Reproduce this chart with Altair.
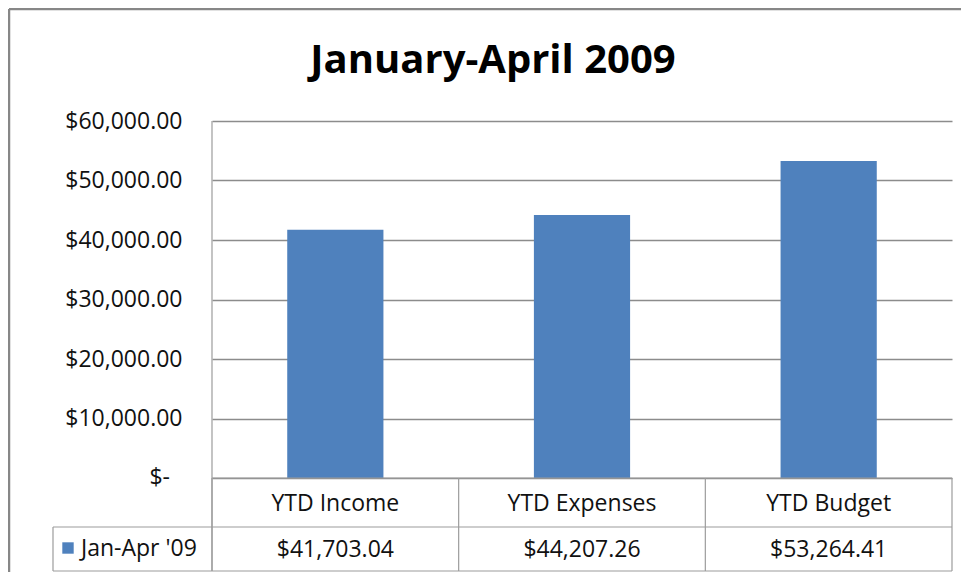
import altair as alt
import pandas as pd

# ---- data ----
categories = ["YTD Income", "YTD Expenses", "YTD Budget"]
values = [41703.04, 44207.26, 53264.41]
series_name = "Jan-Apr '09"
y_ticks = [0, 10000, 20000, 30000, 40000, 50000, 60000]
title_text = "January-April 2009"

BAR = "#4F81BD"
GRID = "#8C8C8C"
TABLE = "#9C9C9C"
FONT = "Open Sans"
FS = 23

W, H = 740, 357

df = pd.DataFrame({"cat": categories, "value": values})
one = pd.DataFrame({"a": [0]})
zero = pd.DataFrame({"value": [y_ticks[0]], "lbl": ["$-"]})

x_enc = alt.X("cat:N", sort=categories,
              scale=alt.Scale(paddingInner=0, paddingOuter=0), axis=None)

bars = alt.Chart(df).mark_bar(color=BAR, width=alt.RelativeBandSize(0.39)).encode(
    x=x_enc,
    y=alt.Y("value:Q", scale=alt.Scale(domain=[0, 60000]), title=None,
            axis=alt.Axis(values=y_ticks, grid=True, gridColor=GRID, gridWidth=1.3,
                          ticks=False, domain=False, labelPadding=30,
                          labelFont=FONT, labelFontSize=FS, labelColor="#111",
                          labelExpr="datum.value == 0 ? '' : '$' + format(datum.value, ',.2f')")),
)

zero_lbl = alt.Chart(zero).mark_text(font=FONT, fontSize=FS, color="#111",
                                     align="right", baseline="middle").encode(
    x=alt.value(-42), y=alt.Y("value:Q"), text="lbl:N")

cat_text = alt.Chart(df).mark_text(font=FONT, fontSize=FS, color="#111", baseline="middle").encode(
    x=x_enc, y=alt.value(383), text="cat:N")

val_text = alt.Chart(df).transform_calculate(
    lbl="'$' + format(datum.value, ',.2f')"
).mark_text(font=FONT, fontSize=FS, color="#111", baseline="middle").encode(
    x=x_enc, y=alt.value(429), text="lbl:N")

# table vertical separators at band starts
vlines = alt.Chart(df).mark_rule(color=TABLE, strokeWidth=1.2).encode(
    x=alt.X("cat:N", sort=categories, bandPosition=0,
            scale=alt.Scale(paddingInner=0, paddingOuter=0), axis=None),
    y=alt.value(H), y2=alt.value(450))

def rule(**kw):
    return alt.Chart(one).mark_rule(color=TABLE, strokeWidth=1.2).encode(**{k: alt.value(v) for k, v in kw.items()})

right_line = rule(x=W, y=H, y2=450)
left_line = rule(x=0, y=0, y2=450)
legend_left = rule(x=-159, y=406, y2=450)
h_mid = rule(x=-159, x2=W, y=406)
h_bot = rule(x=-159, x2=W, y=450)
h_top = rule(x=0, x2=W, y=H)

outer_left = alt.Chart(one).mark_rule(color="#878787", strokeWidth=2.5).encode(
    x=alt.value(-203), y=alt.value(-112), y2=alt.value(470))
outer_top = alt.Chart(one).mark_rule(color="#878787", strokeWidth=2.5).encode(
    x=alt.value(-203), x2=alt.value(770), y=alt.value(-112))

legend_sq = alt.Chart(one).mark_square(color=BAR, size=130, opacity=1).encode(
    x=alt.value(-144), y=alt.value(427))
legend_txt = alt.Chart(one).transform_calculate(t=f'"{series_name}"').mark_text(
    font=FONT, fontSize=FS, color="#111", align="left", baseline="middle").encode(
    x=alt.value(-131), y=alt.value(428), text="t:N")

title = alt.Chart(one).transform_calculate(t=f'"{title_text}"').mark_text(
    font=FONT, fontSize=40, fontWeight="bold", color="#000", baseline="middle").encode(
    x=alt.value(281), y=alt.value(-60), text="t:N")

chart = alt.layer(
    bars, zero_lbl, vlines, right_line, left_line, legend_left, h_mid, h_bot, h_top,
    cat_text, val_text, legend_sq, legend_txt, title, outer_left, outer_top
).properties(
    width=W, height=H,
    autosize=alt.AutoSizeParams(type="none"),
    padding={"left": 204, "top": 113, "right": 9, "bottom": 94},
    background="white",
).configure_view(strokeWidth=0)

chart.save("out.html", embed_options={"renderer": "svg", "actions": False})
